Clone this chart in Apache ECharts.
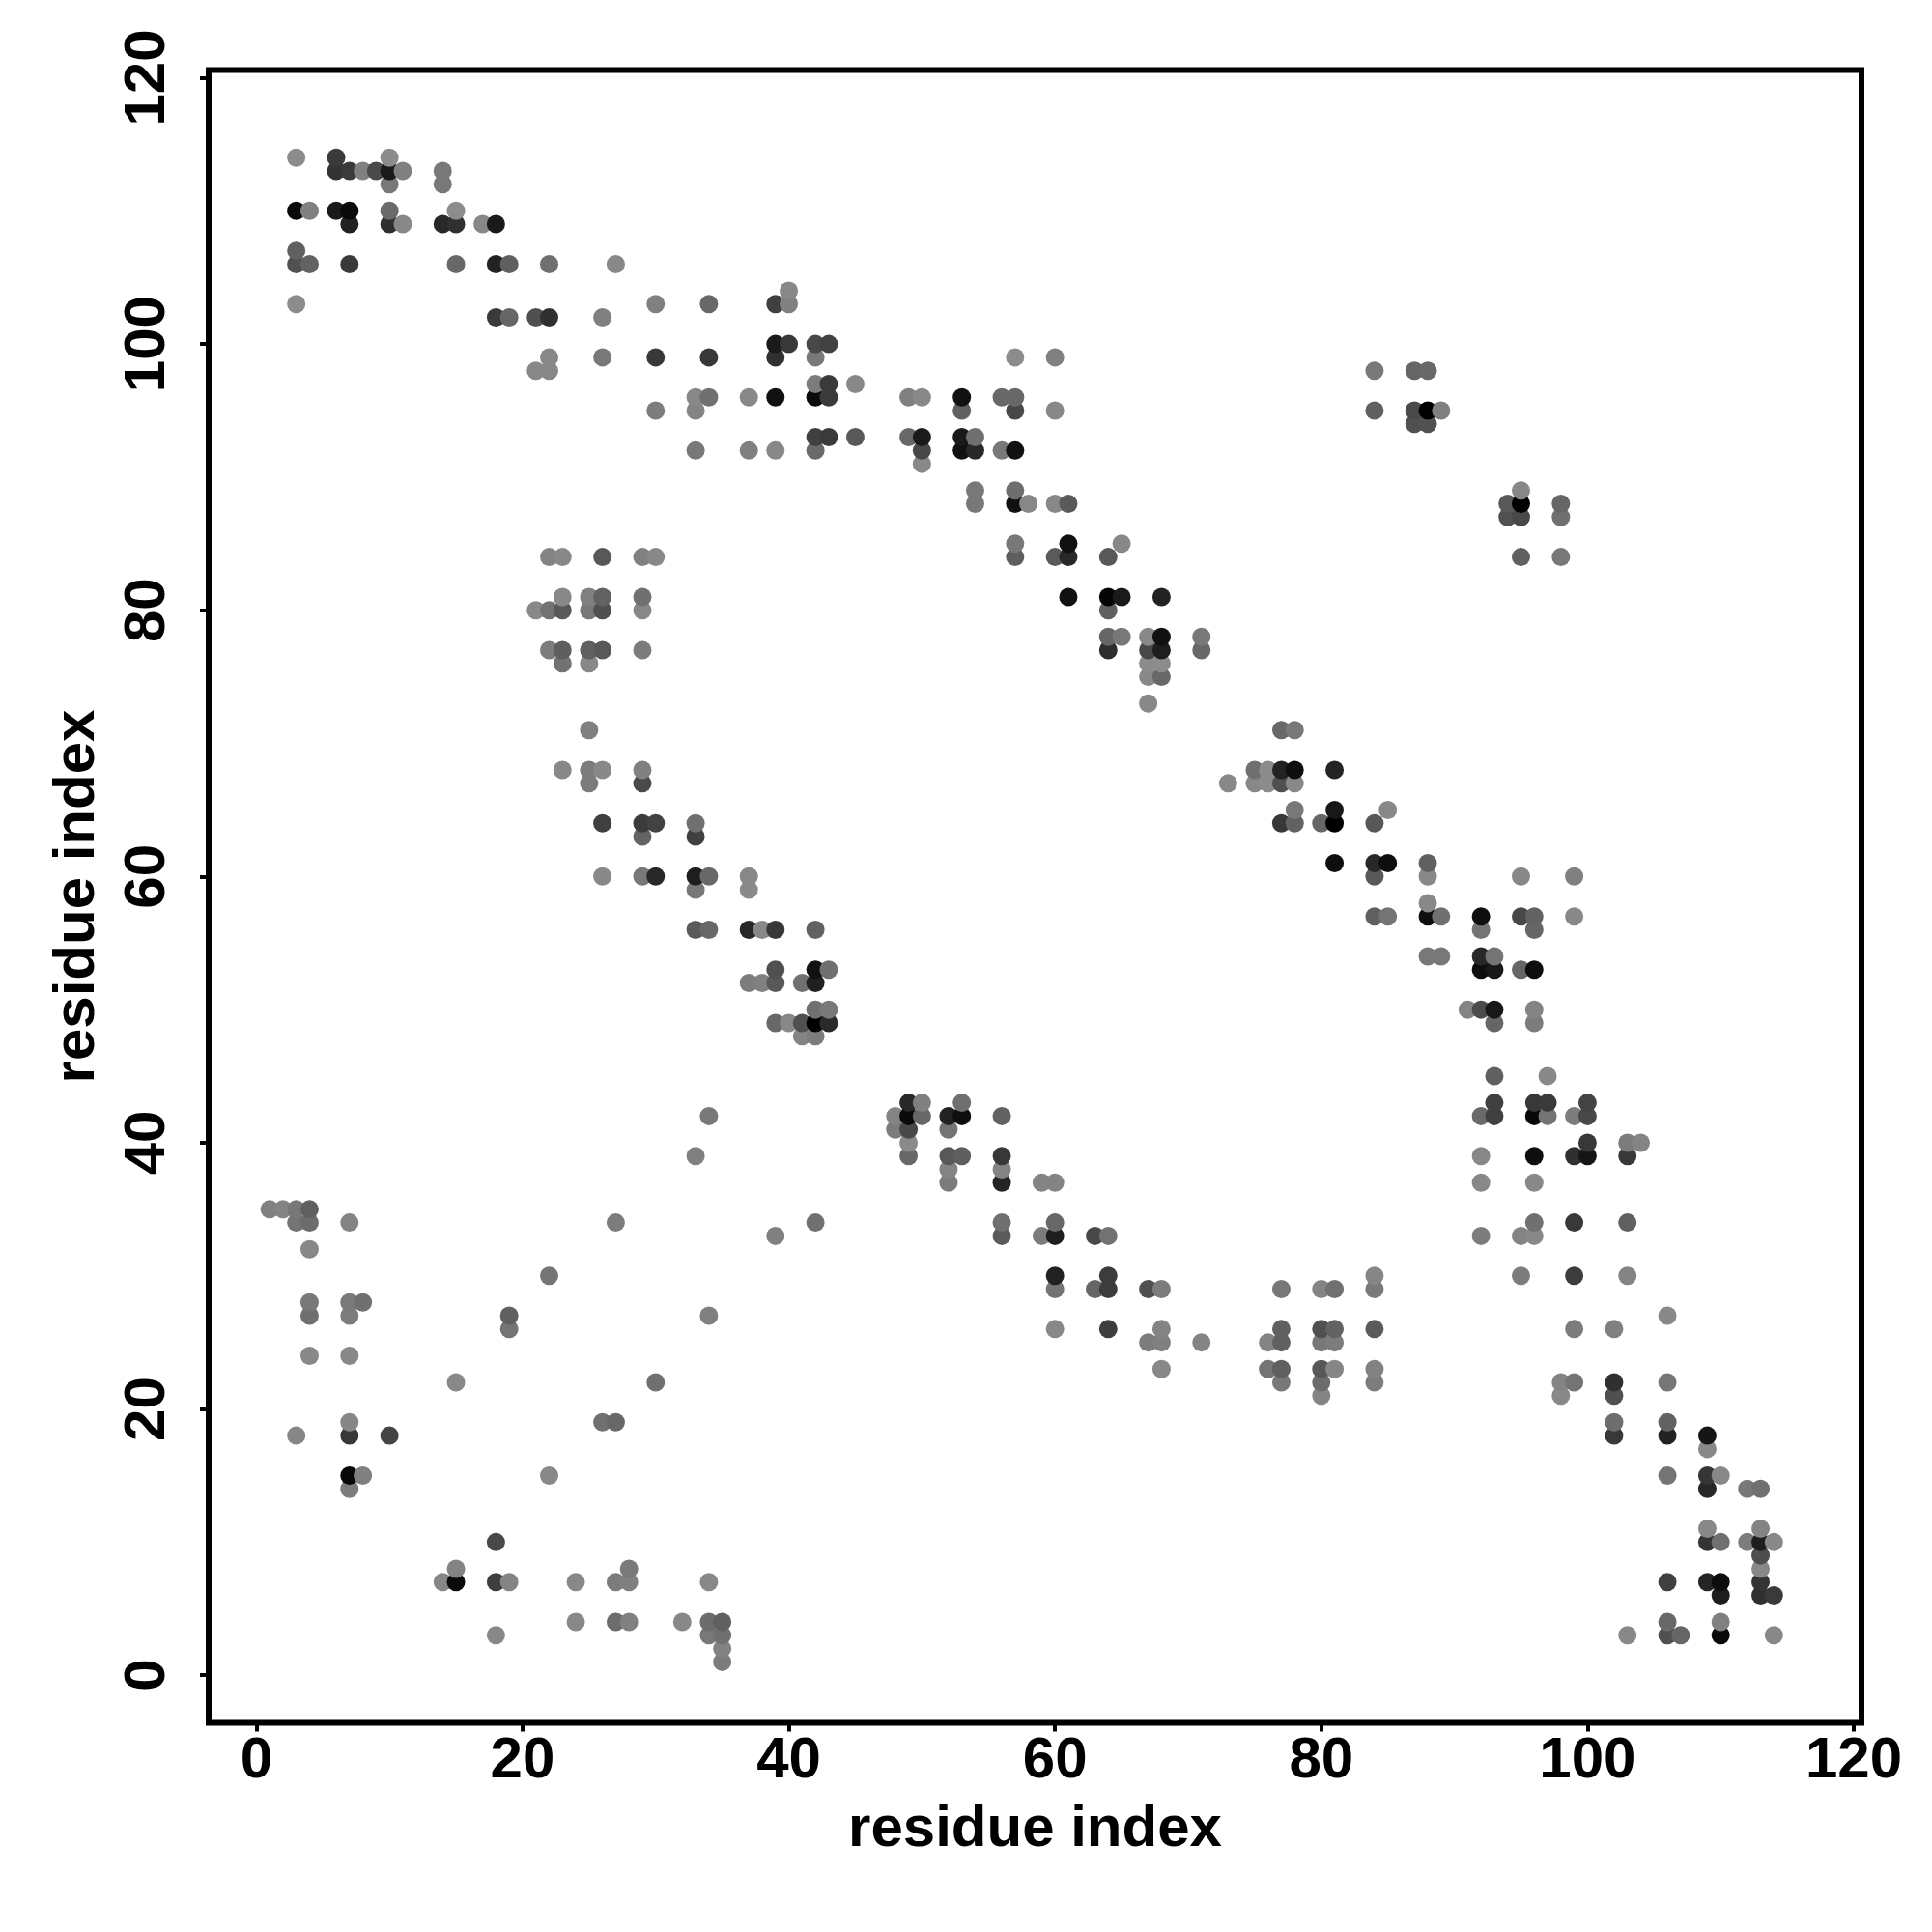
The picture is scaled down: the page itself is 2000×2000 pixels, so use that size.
<!DOCTYPE html>
<html>
<head>
<meta charset="utf-8">
<style>html,body{margin:0;padding:0;background:#fff}#chart{width:2000px;height:2000px}</style>
<script src="https://cdn.jsdelivr.net/npm/echarts@6/dist/echarts.min.js"></script>
</head>
<body>
<div id="chart"></div>
<script>
// Each contact: [residue x, residue y, grey level]
const topLeftContacts = [
[3,114,0x8c],[6,114,0x3a],[6,113,0x33],[7,113,0x3a],[8,113,0x80],[9,113,0x4a],[10,114,0x8c],[10,113,0x1a],[11,113,0x80],[10,112,0x78],
[14,113,0x78],[14,112,0x78],[3,110,0x0a],[4,110,0x80],[6,110,0x1a],[7,110,0x0a],[7,109,0x22],[10,110,0x6a],[10,109,0x30],[11,109,0x88],
[14,109,0x28],[15,109,0x30],[15,110,0x8c],[17,109,0x88],[18,109,0x1a],[3,107,0x60],[3,106,0x50],[4,106,0x62],[7,106,0x3a],[15,106,0x68],
[18,106,0x22],[19,106,0x60],[22,106,0x70],[27,106,0x88],[3,103,0x8c],[18,102,0x3a],[19,102,0x66],[21,102,0x50],[22,102,0x30],[26,102,0x80],
[30,103,0x80],[34,103,0x68],[22,99,0x88],[26,99,0x78],[30,99,0x38],[34,99,0x38],[21,98,0x88],[22,98,0x88],[30,95,0x7c]
];
const upperBandContacts = [
[33,96,0x88],[34,96,0x70],[33,95,0x84],[33,92,0x78],[39,103,0x40],[40,104,0x88],[40,103,0x80],[39,100,0x1a],[40,100,0x38],[39,99,0x30],
[42,100,0x48],[43,100,0x42],[42,99,0x78],[57,99,0x8c],[60,99,0x80],[37,96,0x88],[39,96,0x11],[42,97,0x7c],[43,97,0x3a],[42,96,0x0a],
[43,96,0x3a],[45,97,0x88],[49,96,0x80],[50,96,0x88],[53,96,0x11],[53,95,0x60],[56,96,0x68],[57,96,0x68],[57,95,0x48],[60,95,0x88],
[37,92,0x80],[39,92,0x88],[42,93,0x40],[43,93,0x3a],[42,92,0x6a],[45,93,0x58],[49,93,0x68],[50,93,0x1a],[50,92,0x48],[50,91,0x88],
[53,93,0x1a],[54,93,0x70],[53,92,0x11],[54,92,0x28],[56,92,0x78],[57,92,0x11],[54,89,0x78],[54,88,0x78],[57,89,0x6e],[57,88,0x11],
[58,88,0x88],[60,88,0x88],[61,88,0x5a],[57,85,0x78],[57,84,0x5e],[60,84,0x5a],[61,85,0x11],[61,84,0x28],[64,84,0x58],[65,85,0x88],
[61,81,0x11],[64,81,0x05],[65,81,0x1a],[68,81,0x22],[64,80,0x60]
];
const middleUpperContacts = [
[64,78,0x66],[65,78,0x78],[64,77,0x2e],[67,78,0x88],[68,78,0x11],[67,77,0x48],[68,77,0x1e],[67,76,0x8c],[68,76,0x8c],[67,75,0x88],
[68,75,0x68],[71,78,0x78],[71,77,0x68],[67,73,0x88],
[84,98,0x78],[87,98,0x66],[88,98,0x68],[84,95,0x60],[87,95,0x4a],[88,95,0x00],[89,95,0x80],[87,94,0x50],[88,94,0x52],
[95,89,0x88],[94,88,0x58],[95,88,0x00],[94,87,0x50],[95,87,0x48],[98,88,0x66],[98,87,0x70],[95,84,0x60],[98,84,0x78]
];
const leftMiddleContacts = [
[22,84,0x84],[23,84,0x88],[26,84,0x58],[29,84,0x80],[30,84,0x88],[23,81,0x88],[25,81,0x80],[26,81,0x62],[29,81,0x70],
[21,80,0x88],[22,80,0x72],[23,80,0x58],[25,80,0x78],[26,80,0x50],[29,80,0x88],[22,77,0x7c],[23,77,0x5e],[25,77,0x60],[26,77,0x58],[29,77,0x7c],
[23,76,0x72],[25,76,0x88],[25,71,0x80],[23,68,0x88],[25,68,0x7c],[26,68,0x88],[29,68,0x80],[25,67,0x7c],[29,67,0x4a],
[26,64,0x40],[29,64,0x3c],[30,64,0x42],[33,64,0x70],[29,63,0x64],[33,63,0x40],[26,60,0x88],[29,60,0x78],[30,60,0x28],[33,60,0x1e],[34,60,0x68],[37,60,0x88],
[33,59,0x78],[37,59,0x8a],[33,56,0x5a],[34,56,0x68],[37,56,0x28],[38,56,0x88],[39,56,0x38],[42,56,0x62],[39,53,0x50],[42,53,0x11],[43,53,0x70],
[37,52,0x7c],[38,52,0x80],[39,52,0x58],[41,52,0x70],[42,52,0x20],[42,50,0x70],[43,50,0x78],[39,49,0x68],[40,49,0x88],[41,49,0x50],[42,49,0x00],[43,49,0x2a],
[41,48,0x84],[42,48,0x7c]
];
const rightMiddleContacts = [
[77,71,0x68],[78,71,0x78],[75,68,0x70],[76,68,0x8c],[77,68,0x22],[78,68,0x0e],[81,68,0x24],[73,67,0x88],[75,67,0x88],[76,67,0x8c],[77,67,0x50],[78,67,0x88],
[78,65,0x78],[81,65,0x18],[85,65,0x88],[77,64,0x38],[78,64,0x62],[80,64,0x66],[81,64,0x00],[84,64,0x58],[81,61,0x0e],[84,61,0x28],[85,61,0x0e],[88,61,0x60],
[84,60,0x58],[88,60,0x88],[95,60,0x88],[99,60,0x80],[84,57,0x60],[85,57,0x74],[88,58,0x88],[88,57,0x0e],[89,57,0x70],[92,57,0x0e],[95,57,0x48],[96,57,0x62],[99,57,0x88],
[92,56,0x74],[96,56,0x66],[88,54,0x78],[89,54,0x78],[92,54,0x28],[93,54,0x74],[92,53,0x0e],[93,53,0x18],[95,53,0x66],[96,53,0x0e],
[91,50,0x84],[92,50,0x4c],[93,50,0x18],[96,50,0x84],[93,49,0x66],[96,49,0x7c]
];
const lowerBandContacts = [
[49,43,0x28],[50,43,0x80],[48,42,0x84],[49,42,0x0a],[50,42,0x68],[48,41,0x7c],[49,41,0x48],[49,40,0x8a],[49,39,0x68],
[53,43,0x70],[52,42,0x22],[53,42,0x0e],[52,41,0x74],[56,42,0x62],[52,39,0x58],[53,39,0x5e],[52,38,0x84],[52,37,0x7c],[56,39,0x38],[56,38,0x84],[56,37,0x24],
[59,37,0x84],[60,37,0x84],[56,34,0x70],[56,33,0x5a],[59,33,0x7c],[60,34,0x68],[60,33,0x1e],[63,33,0x48],[64,33,0x72],
[60,30,0x22],[60,29,0x74],[64,30,0x3c],[63,29,0x66],[64,29,0x3c],[67,29,0x50],[68,29,0x7c],[60,26,0x88],[64,26,0x3e],[68,26,0x84],[67,25,0x7c],[68,25,0x80],[71,25,0x84],[68,23,0x88],
[77,29,0x78],[80,29,0x84],[81,29,0x70],[84,30,0x86],[84,29,0x7a],[77,26,0x60],[76,25,0x84],[77,25,0x60],[80,26,0x50],[81,26,0x62],[80,25,0x78],[81,25,0x7c],[84,26,0x5a],
[76,23,0x74],[77,23,0x60],[77,22,0x78],[80,23,0x58],[81,23,0x86],[80,22,0x6c],[80,21,0x84],[84,23,0x82],[84,22,0x7c]
];
const rightLowerContacts = [
[93,45,0x60],[97,45,0x88],[93,43,0x40],[92,42,0x6a],[93,42,0x40],[96,43,0x38],[97,43,0x3a],[96,42,0x08],[97,42,0x74],[99,42,0x7c],[100,43,0x44],[100,42,0x48],
[100,40,0x38],[99,39,0x30],[100,39,0x16],[103,40,0x7c],[104,40,0x84],[103,39,0x38],[92,39,0x88],[96,39,0x0e],[92,37,0x88],[96,37,0x88],
[96,34,0x70],[92,33,0x7c],[95,33,0x84],[96,33,0x88],[99,34,0x38],[103,34,0x60],[95,30,0x7c],[99,30,0x3c],[103,30,0x84],[106,27,0x88],[99,26,0x7c],[102,26,0x80],
[98,22,0x84],[99,22,0x74],[102,22,0x30],[98,21,0x88],[102,21,0x50],[106,22,0x76],[102,19,0x6e],[106,19,0x62],[102,18,0x38],[106,18,0x22],[109,18,0x16],[109,17,0x88],
[106,15,0x74],[109,15,0x36],[110,15,0x88],[109,14,0x28],[112,14,0x78],[113,14,0x70],[109,11,0x88],[109,10,0x34],[110,10,0x70],[112,10,0x7c],[113,11,0x84],[113,10,0x1e],[114,10,0x88],[113,9,0x4e],[113,8,0x88],
[106,7,0x40],[109,7,0x24],[110,7,0x0c],[110,6,0x1e],[113,7,0x34],[113,6,0x30],[114,6,0x3a],[110,4,0x80],[103,3,0x88],[106,4,0x68],[106,3,0x50],[107,3,0x66],[110,3,0x0a],[114,3,0x88]
];
const bottomLeftContacts = [
[1,35,0x80],[2,35,0x84],[3,35,0x78],[4,35,0x60],[3,34,0x74],[4,34,0x6c],[7,34,0x84],[27,34,0x7c],[4,32,0x88],[22,30,0x74],
[4,28,0x78],[7,28,0x7a],[8,28,0x70],[4,27,0x70],[7,27,0x7c],[19,27,0x60],[19,26,0x74],[34,27,0x80],[4,24,0x88],[7,24,0x88],[15,22,0x88],[30,22,0x70],
[7,19,0x86],[26,19,0x70],[27,19,0x68],[3,18,0x86],[7,18,0x38],[10,18,0x44],[7,15,0x08],[8,15,0x80],[22,15,0x88],[7,14,0x7c],[18,10,0x48],
[15,8,0x84],[14,7,0x86],[15,7,0x0a],[18,7,0x3e],[19,7,0x84],[24,7,0x88],[27,7,0x7c],[28,8,0x7a],[28,7,0x80],[34,7,0x88],
[24,4,0x88],[27,4,0x6c],[28,4,0x80],[32,4,0x88],[34,4,0x6c],[35,4,0x60],[34,3,0x78],[35,3,0x70],[35,2,0x82],[35,1,0x7c],[18,3,0x88],
[34,42,0x78],[33,39,0x80],[39,33,0x80],[42,34,0x70]
];
const tickValues = [0, 20, 40, 60, 80, 100, 120];
const axisTitle = 'residue index';
const axisMin = -3.58, axisMax = 120.58;

const contacts = [].concat(topLeftContacts, upperBandContacts, middleUpperContacts, leftMiddleContacts,
  rightMiddleContacts, lowerBandContacts, rightLowerContacts, bottomLeftContacts)
  .sort((a, b) => a[0] - b[0] || a[1] - b[1]);

const font = '"Liberation Sans", Arial, Helvetica, sans-serif';
const textStyle = { fontFamily: font, fontWeight: 'bold', fontSize: 60, color: '#000' };
function makeAxis(extra, label) {
  return Object.assign({
    type: 'value', min: axisMin, max: axisMax, name: axisTitle, nameLocation: 'middle',
    nameTextStyle: textStyle, splitLine: { show: false }, axisLine: { show: false, onZero: false },
    axisTick: { show: true, inside: false, length: 9, lineStyle: { color: '#000', width: 4 }, customValues: tickValues },
    axisLabel: Object.assign({ show: true, customValues: tickValues, showMinLabel: true, showMaxLabel: true, hideOverlap: false }, textStyle, label)
  }, extra);
}
const chart = echarts.init(document.getElementById('chart'), null, { renderer: 'canvas', width: 2000, height: 2000 });
chart.setOption({
  backgroundColor: '#fff',
  animation: false,
  grid: { left: 216, top: 72.5, width: 1711, height: 1711, show: true, borderColor: '#000', borderWidth: 6, backgroundColor: 'transparent' },
  xAxis: makeAxis({ nameGap: 81 }, { margin: 10 }),
  yAxis: makeAxis({ nameGap: 106, nameRotate: 90 }, { margin: 33, rotate: 90 }),
  series: [{
    type: 'scatter', data: contacts, symbol: 'circle', symbolSize: 19, silent: true, clip: false,
    encode: { x: 0, y: 1 },
    itemStyle: { opacity: 1, color: p => { const g = p.value[2]; return 'rgb(' + g + ',' + g + ',' + g + ')'; } }
  }]
});
</script>
</body>
</html>
